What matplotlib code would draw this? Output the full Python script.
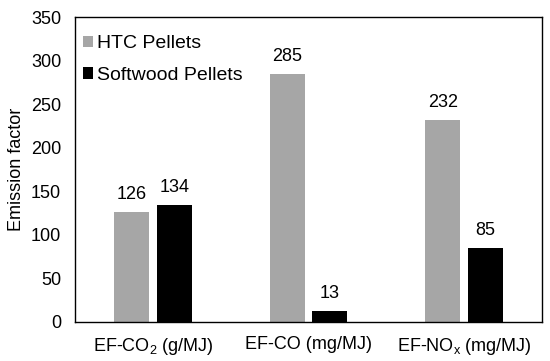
import matplotlib
matplotlib.use("Agg")
import matplotlib.pyplot as plt
import numpy as np

plt.rcParams['font.family'] = ['Liberation Sans', 'DejaVu Sans']
plt.rcParams['mathtext.fontset'] = 'custom'
plt.rcParams['mathtext.rm'] = 'Liberation Sans'
plt.rcParams['mathtext.it'] = 'Liberation Sans'

categories = ['EF-CO$_2$ (g/MJ)', 'EF-CO (mg/MJ)', 'EF-NO$_x$ (mg/MJ)']
htc = [126, 285, 232]
softwood = [134, 13, 85]
yticks = [0, 50, 100, 150, 200, 250, 300, 350]

FS = 13

fig = plt.figure(figsize=(5.5, 3.61), dpi=100)
ax = fig.add_axes([75/550, 1-322/361, 467/550, 305/361])

x = np.arange(len(categories))
w = 0.225
off = 0.138
b1 = ax.bar(x - off, htc, w, color='#a6a6a6', label='HTC Pellets')
b2 = ax.bar(x + off, softwood, w, color='#000000', label='Softwood Pellets')
for bars in (b1, b2):
    for r in bars:
        ax.annotate(f'{int(r.get_height())}', (r.get_x() + r.get_width()/2, r.get_height()),
                    xytext=(0, 6.5), textcoords='offset points', ha='center', va='bottom', fontsize=FS)

ax.set_xlim(-0.5, 2.5)
ax.set_ylim(0, 350)
ax.set_yticks(yticks)
ax.set_xticks(x)
ax.set_xticklabels(categories, fontsize=FS)
ax.tick_params(axis='both', length=0, labelsize=FS)
ax.tick_params(axis='y', pad=10)
ax.tick_params(axis='x', pad=10)
for s in ax.spines.values():
    s.set_linewidth(1.0)
ax.set_ylabel('Emission factor', fontsize=FS, labelpad=4)

ax.legend(loc='upper left', bbox_to_anchor=(0.017, 0.94), frameon=False, fontsize=14,
          handlelength=0.5, handleheight=0.5, handletextpad=0.2, borderaxespad=0,
          labelspacing=0.75, borderpad=0)

fig.savefig('out.png', dpi=100)
